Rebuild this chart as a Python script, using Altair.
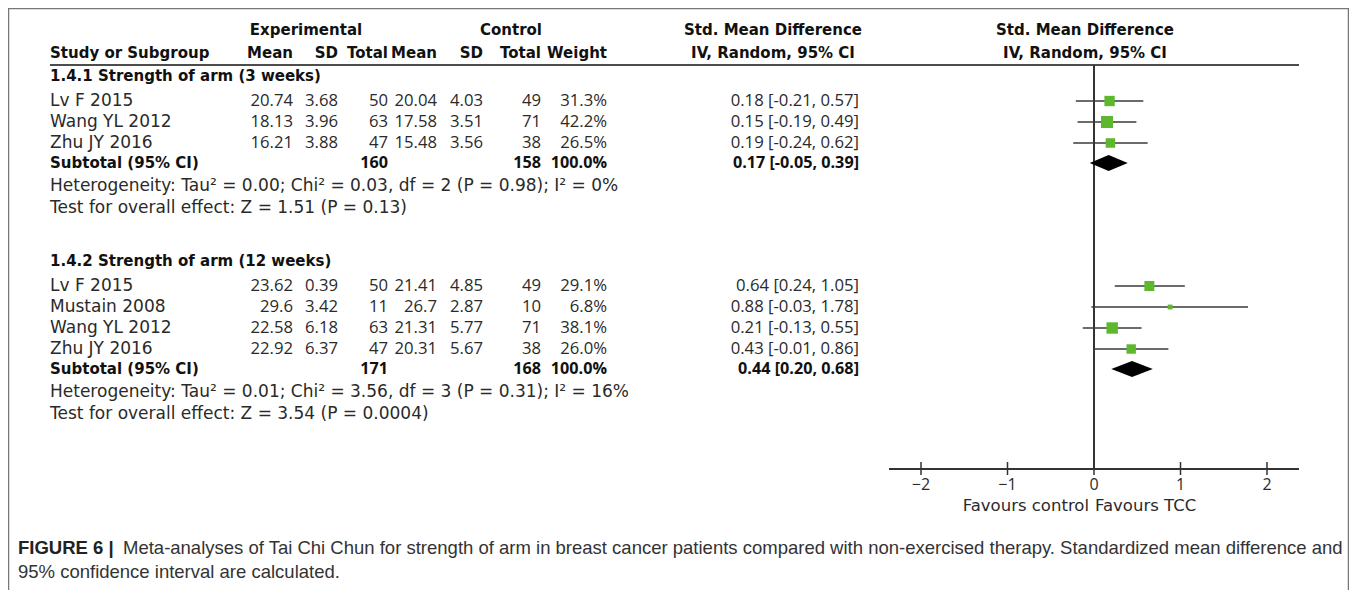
import altair as alt
import pandas as pd

# ---------------- data ----------------
group_titles = ["1.4.1 Strength of arm (3 weeks)", "1.4.2 Strength of arm (12 weeks)"]

g1_study = ["Lv F 2015", "Wang YL 2012", "Zhu JY 2016"]
g1_exp_mean = [20.74, 18.13, 16.21]
g1_exp_sd = [3.68, 3.96, 3.88]
g1_exp_n = [50, 63, 47]
g1_ctl_mean = [20.04, 17.58, 15.48]
g1_ctl_sd = [4.03, 3.51, 3.56]
g1_ctl_n = [49, 71, 38]
g1_weight = [31.3, 42.2, 26.5]
g1_smd = [0.18, 0.15, 0.19]
g1_lo = [-0.21, -0.19, -0.24]
g1_hi = [0.57, 0.49, 0.62]

g2_study = ["Lv F 2015", "Mustain 2008", "Wang YL 2012", "Zhu JY 2016"]
g2_exp_mean = [23.62, 29.6, 22.58, 22.92]
g2_exp_sd = [0.39, 3.42, 6.18, 6.37]
g2_exp_n = [50, 11, 63, 47]
g2_ctl_mean = [21.41, 26.7, 21.31, 20.31]
g2_ctl_sd = [4.85, 2.87, 5.77, 5.67]
g2_ctl_n = [49, 10, 71, 38]
g2_weight = [29.1, 6.8, 38.1, 26.0]
g2_smd = [0.64, 0.88, 0.21, 0.43]
g2_lo = [0.24, -0.03, -0.13, -0.01]
g2_hi = [1.05, 1.78, 0.55, 0.86]

sub_exp_n = [160, 171]
sub_ctl_n = [158, 168]
sub_weight = [100.0, 100.0]
sub_smd = [0.17, 0.44]
sub_lo = [-0.05, 0.20]
sub_hi = [0.39, 0.68]

heterogeneity = [
    "Heterogeneity: Tau\u00b2 = 0.00; Chi\u00b2 = 0.03, df = 2 (P = 0.98); I\u00b2 = 0%",
    "Heterogeneity: Tau\u00b2 = 0.01; Chi\u00b2 = 3.56, df = 3 (P = 0.31); I\u00b2 = 16%",
]
overall = [
    "Test for overall effect: Z = 1.51 (P = 0.13)",
    "Test for overall effect: Z = 3.54 (P = 0.0004)",
]

header_top = ["Experimental", "Control", "Std. Mean Difference", "Std. Mean Difference"]
header_cols = ["Mean", "SD", "Total", "Mean", "SD", "Total", "Weight"]
header_ci = "IV, Random, 95% CI"
header_study = "Study or Subgroup"
subtotal_label = "Subtotal (95% CI)"

axis_ticks = [-2, -1, 0, 1, 2]
favours = ["Favours control", "Favours TCC"]

caption_bold = "FIGURE 6 |"
caption_rest = ("Meta-analyses of Tai Chi Chun for strength of arm in breast cancer patients "
                "compared with non-exercised therapy. Standardized mean difference and")
caption_line2 = "95% confidence interval are calculated."

# ---------------- layout ----------------
W, H = 1341, 582
OFF = 8  # page margin
def P(v):
    return v - OFF

FONT = "DejaVu Sans"      # words
NUMFONT = "Open Sans"     # numbers
FS = 17.0
FS_NUM = 16.7
FS_B = 15.0
FS_NUM_B = 16.2
FS_TICK = 16.0
FS_FAV = 16.5
CAP_FONT = "Liberation Sans"
CAP_FS = 18.5
INK = "#2a2a2a"
INK_B = "#111111"

col_right = {"exp_mean": 293, "exp_sd": 338, "exp_n": 388, "ctl_mean": 437,
             "ctl_sd": 483, "ctl_n": 541, "weight": 607, "ci": 859}
study_x = 50
hdr1_y, hdr2_y, hdr_rule_y = 30, 53, 65
hdr1_center = [306, 511, 773, 1085]
plot_range = [889, 1299]
plot_domain = [-2.37, 2.37]
axis_y = 469
tick_label_dy, fav_dy = 16, 37

# row positions
group_start = 76
first_gap, study_gap, sub_gap, het_gap, test_gap, group_gap = 25, 21, 20, 23, 22, 53

def fmt_num(v):
    return f"{v:g}"

def fmt_sd(v):
    return f"{v:.2f}"

def fmt_ci(e, lo, hi):
    return f"{e:.2f} [{lo:.2f}, {hi:.2f}]"

groups = [
    dict(study=g1_study, em=g1_exp_mean, es=g1_exp_sd, en=g1_exp_n, cm=g1_ctl_mean,
         cs=g1_ctl_sd, cn=g1_ctl_n, w=g1_weight, smd=g1_smd, lo=g1_lo, hi=g1_hi),
    dict(study=g2_study, em=g2_exp_mean, es=g2_exp_sd, en=g2_exp_n, cm=g2_ctl_mean,
         cs=g2_ctl_sd, cn=g2_ctl_n, w=g2_weight, smd=g2_smd, lo=g2_lo, hi=g2_hi),
]

left_norm, left_bold, num_norm, num_bold, hdr_right, center_bold = [], [], [], [], [], []
study_rows, diamond_rows = [], []

y = group_start
for gi, g in enumerate(groups):
    left_bold.append(dict(t=group_titles[gi], x=P(study_x), y=P(y)))
    y += first_gap
    for i, s in enumerate(g["study"]):
        if i > 0:
            y += study_gap
        left_norm.append(dict(t=s, x=P(study_x), y=P(y)))
        vals = [("exp_mean", fmt_num(g["em"][i])), ("exp_sd", fmt_sd(g["es"][i])),
                ("exp_n", str(g["en"][i])), ("ctl_mean", fmt_num(g["cm"][i])),
                ("ctl_sd", fmt_sd(g["cs"][i])), ("ctl_n", str(g["cn"][i])),
                ("weight", f"{g['w'][i]:.1f}%"),
                ("ci", fmt_ci(g["smd"][i], g["lo"][i], g["hi"][i]))]
        for k, t in vals:
            num_norm.append(dict(t=t, x=P(col_right[k]), y=P(y)))
        study_rows.append(dict(smd=g["smd"][i], lo=g["lo"][i], hi=g["hi"][i],
                               weight=g["w"][i], y=P(y)))
    y += sub_gap
    left_bold.append(dict(t=subtotal_label, x=P(study_x), y=P(y)))
    for k, t in [("exp_n", str(sub_exp_n[gi])), ("ctl_n", str(sub_ctl_n[gi])),
                 ("weight", f"{sub_weight[gi]:.1f}%"),
                 ("ci", fmt_ci(sub_smd[gi], sub_lo[gi], sub_hi[gi]))]:
        num_bold.append(dict(t=t, x=P(col_right[k]), y=P(y)))
    half = 8
    diamond_rows += [
        dict(g=gi, smd=sub_lo[gi], y1=P(y), y2=P(y)),
        dict(g=gi, smd=sub_smd[gi], y1=P(y) - half, y2=P(y) + half),
        dict(g=gi, smd=sub_hi[gi], y1=P(y), y2=P(y)),
    ]
    y += het_gap
    left_norm.append(dict(t=heterogeneity[gi], x=P(study_x), y=P(y)))
    y += test_gap
    left_norm.append(dict(t=overall[gi], x=P(study_x), y=P(y)))
    y += group_gap

# headers
left_bold.append(dict(t=header_study, x=P(study_x), y=P(hdr2_y)))
for k, t in zip(["exp_mean", "exp_sd", "exp_n", "ctl_mean", "ctl_sd", "ctl_n", "weight"], header_cols):
    hdr_right.append(dict(t=t, x=P(col_right[k]), y=P(hdr2_y)))
for t, cx in zip(header_top, hdr1_center):
    center_bold.append(dict(t=t, x=P(cx), y=P(hdr1_y)))
center_bold.append(dict(t=header_ci, x=P(hdr1_center[2]), y=P(hdr2_y)))
center_bold.append(dict(t=header_ci, x=P(hdr1_center[3]), y=P(hdr2_y)))

# ---------------- encodings ----------------
XPX = alt.X("x:Q", scale=alt.Scale(domain=[0, W], range=[0, W]), axis=None)
YPX = alt.Y("y:Q", scale=alt.Scale(domain=[0, H], range=[0, H]), axis=None)
XS_SCALE = alt.Scale(domain=plot_domain, range=[P(plot_range[0]), P(plot_range[1])])


def text_layer(rows, align, weight, font=FONT, size=FS, color=INK):
    return alt.Chart(pd.DataFrame(rows)).mark_text(
        align=align, baseline="middle", font=font, fontSize=size,
        fontWeight=weight, color=color
    ).encode(x=XPX, y=YPX, text="t:N")


layers = [
    text_layer(left_norm, "left", "normal"),
    text_layer(left_bold, "left", "bold", size=FS_B, color=INK_B),
    text_layer(num_norm, "right", "normal", font=NUMFONT, size=FS_NUM),
    text_layer(num_bold, "right", "bold", font=NUMFONT, size=FS_NUM_B, color=INK_B),
    text_layer(hdr_right, "right", "bold", size=FS_B, color=INK_B),
    text_layer(center_bold, "center", "bold", size=FS_B, color=INK_B),
]

# header rule
hdr = pd.DataFrame([dict(x=P(study_x), x2=P(plot_range[1]), y=P(hdr_rule_y))])
layers.append(alt.Chart(hdr).mark_rule(color="#111", strokeWidth=1.5).encode(
    x=XPX, x2="x2:Q", y=YPX))

# forest plot
studies = pd.DataFrame(study_rows)
layers.append(alt.Chart(pd.DataFrame([dict(v=0, y=P(hdr_rule_y), y2=P(axis_y))])).mark_rule(
    color="#333", strokeWidth=2).encode(
    x=alt.X("v:Q", scale=XS_SCALE, axis=None), y=YPX, y2="y2:Q"))
layers.append(alt.Chart(studies).mark_rule(color="#3a3a3a", strokeWidth=1.6).encode(
    x=alt.X("lo:Q", scale=XS_SCALE, axis=None), x2="hi:Q", y=YPX))
layers.append(alt.Chart(studies).mark_square(color="#5db82e", opacity=1).encode(
    x=alt.X("smd:Q", scale=XS_SCALE, axis=None), y=YPX,
    size=alt.Size("weight:Q", scale=alt.Scale(domain=[0, max(g1_weight + g2_weight)], range=[0, 144]),
                  legend=None)))
layers.append(alt.Chart(pd.DataFrame(diamond_rows)).mark_area(
    color="#000", orient="vertical", opacity=1).encode(
    x=alt.X("smd:Q", scale=XS_SCALE, axis=None),
    y=alt.Y("y1:Q", scale=alt.Scale(domain=[0, H], range=[0, H]), axis=None),
    y2="y2:Q", detail="g:N"))

# axis
ax = pd.DataFrame([dict(a=plot_domain[0], b=plot_domain[1], y=P(axis_y))])
layers.append(alt.Chart(ax).mark_rule(color="#333", strokeWidth=2).encode(
    x=alt.X("a:Q", scale=XS_SCALE, axis=None), x2="b:Q", y=YPX))
ticks = pd.DataFrame([dict(v=v, y=P(axis_y) - 7, y2=P(axis_y) + 6, ly=P(axis_y) + tick_label_dy,
                           lab=("\u2212" if v < 0 else "") + str(abs(v))) for v in axis_ticks])
layers.append(alt.Chart(ticks).mark_rule(color="#333", strokeWidth=1.5).encode(
    x=alt.X("v:Q", scale=XS_SCALE, axis=None), y=YPX, y2="y2:Q"))
layers.append(alt.Chart(ticks).mark_text(font=NUMFONT, fontSize=FS_TICK, color=INK, baseline="middle").encode(
    x=alt.X("v:Q", scale=XS_SCALE, axis=None),
    y=alt.Y("ly:Q", scale=alt.Scale(domain=[0, H], range=[0, H]), axis=None), text="lab:N"))
fav = pd.DataFrame([dict(v=0, t=favours[0], y=P(axis_y) + fav_dy)])
fav2 = pd.DataFrame([dict(v=0, t=favours[1], y=P(axis_y) + fav_dy)])
layers.append(alt.Chart(fav).mark_text(font=FONT, fontSize=FS_FAV, color=INK, align="right", dx=-5,
                                       baseline="middle").encode(
    x=alt.X("v:Q", scale=XS_SCALE, axis=None), y=YPX, text="t:N"))
layers.append(alt.Chart(fav2).mark_text(font=FONT, fontSize=FS_FAV, color=INK, align="left", dx=1,
                                        baseline="middle").encode(
    x=alt.X("v:Q", scale=XS_SCALE, axis=None), y=YPX, text="t:N"))

# caption
cap_y1, cap_y2 = 548, 572
cap_x, cap_rest_x = 18, 123
layers.append(text_layer([dict(t=caption_bold, x=P(cap_x), y=P(cap_y1))], "left", "bold",
                         font=CAP_FONT, size=CAP_FS, color="#222"))
layers.append(text_layer([dict(t=caption_rest, x=P(cap_rest_x), y=P(cap_y1)),
                          dict(t=caption_line2, x=P(cap_x), y=P(cap_y2))], "left", "normal",
                         font=CAP_FONT, size=CAP_FS, color="#333"))

# frame (left, top, right)
frame = pd.DataFrame([dict(x=0.5, x2=0.5, y=0, y2=H), dict(x=0.5, x2=W - 0.5, y=0.5, y2=0.5),
                      dict(x=W - 0.5, x2=W - 0.5, y=0, y2=H)])
layers.append(alt.Chart(frame).mark_rule(color="#777", strokeWidth=1.5).encode(
    x=XPX, x2="x2:Q", y=YPX, y2="y2:Q"))

chart = alt.layer(*layers).resolve_scale(x="independent", y="independent").properties(
    width=W, height=H, padding=0, autosize=alt.AutoSizeParams(type="none"),
    background="white"
).configure_view(stroke=None)

chart.save("out.html", embed_options={"renderer": "svg", "actions": False})
